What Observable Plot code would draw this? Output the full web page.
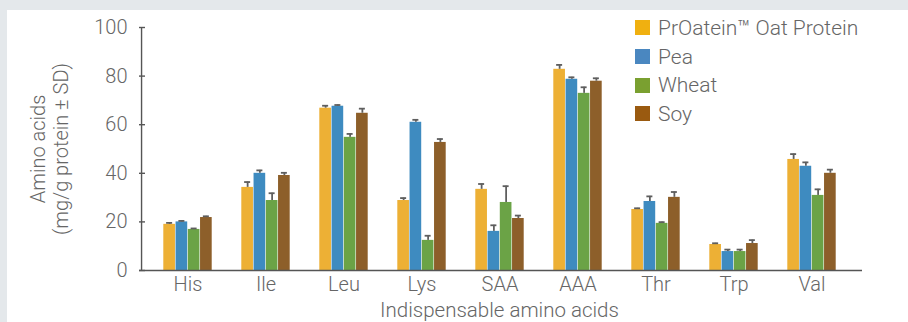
<!DOCTYPE html>
<html><head><meta charset="utf-8">
<script src="https://cdn.jsdelivr.net/npm/d3@7"></script>
<script src="https://cdn.jsdelivr.net/npm/@observablehq/plot@0.6"></script>
<style>
html,body{margin:0;padding:0;background:#e4e8eb;width:908px;height:322px;overflow:hidden;font-family:Roboto,"Liberation Sans",sans-serif;}
#panel{position:absolute;left:7px;top:10px;right:0;bottom:0;background:#fff;}
#chart{position:absolute;left:0;top:0;}
#legend{position:absolute;left:635px;top:13.5px;font-weight:300;font-size:21px;color:#666;}
#legend .row{display:flex;align-items:center;height:28.7px;}
#legend .sw{width:15px;height:15px;margin-right:8px;}
</style></head>
<body>
<div id="panel"></div>
<div id="chart"></div>
<div id="legend"></div>
<script>
const categories = ["His","Ile","Leu","Lys","SAA","AAA","Thr","Trp","Val"];
const series = ["PrOatein™ Oat Protein","Pea","Wheat","Soy"];
const barColors = ["#edb035","#3e8bc0","#6ba346","#8d5f2a"];
const legendColors = ["#f0b010","#4a87c0","#7aa030","#9a5a10"];
const oatValues   = [19.0, 34.2, 66.8, 28.8, 33.4, 82.8, 25.1, 10.7, 45.7];
const oatSD       = [0.6, 2.2, 1.0, 1.0, 2.2, 1.8, 0.5, 0.5, 2.2];
const peaValues   = [20.0, 40.0, 67.6, 61.0, 16.1, 78.7, 28.4, 7.8, 42.9];
const peaSD       = [0.4, 1.2, 0.5, 1.0, 2.5, 0.8, 2.1, 0.8, 1.6];
const wheatValues = [16.9, 28.8, 54.8, 12.4, 28.0, 72.9, 19.4, 7.8, 30.9];
const wheatSD     = [0.4, 3.0, 1.4, 1.9, 6.7, 2.5, 0.5, 0.8, 2.5];
const soyValues   = [21.8, 39.1, 64.7, 52.7, 21.4, 77.9, 30.1, 11.1, 40.0];
const soySD       = [0.5, 1.1, 1.9, 1.4, 1.2, 1.2, 2.2, 1.4, 1.5];
const yTicks = [0, 20, 40, 60, 80, 100];
const xLabel = "Indispensable amino acids";
const yLabel = "Amino acids\n(mg/g protein ± SD)";

const valueSets = [oatValues, peaValues, wheatValues, soyValues];
const sdSets = [oatSD, peaSD, wheatSD, soySD];

const W = 908, H = 322;
const mL = 139, mR = 49, mT = 27, mB = 52;
const frameW = W - mL - mR;
const pInner = 0.375, pOuter = 0.28;
const step = frameW / (categories.length - pInner + 2 * pOuter);
const bw = step * (1 - pInner);
const sub = bw / 4;
const gap = 0.3;
const capHalf = 3;
const tickLen = 6;

const marks = [];
series.forEach((s, i) => {
  const rows = categories.map((c, k) => ({cat: c, v: valueSets[i][k], sd: sdSets[i][k]}));
  const center = (i + 0.5) * sub; // from band start
  marks.push(Plot.barY(rows, {
    x: "cat", y: "v", fill: barColors[i],
    insetLeft: i * sub + gap, insetRight: (3 - i) * sub + gap
  }));
  marks.push(Plot.ruleX(rows, {
    x: "cat", y1: "v", y2: d => d.v + d.sd,
    dx: center - bw / 2, stroke: "#5e5e5e", strokeWidth: 1.8
  }));
  marks.push(Plot.tickY(rows, {
    x: "cat", y: d => d.v + d.sd,
    insetLeft: center - capHalf, insetRight: bw - center - capHalf,
    stroke: "#5e5e5e", strokeWidth: 1.8
  }));
});

// axes
const leftOffset = pOuter * step + bw / 2; // first band centre to frame left
marks.push(Plot.ruleY([0], {stroke: "#555", strokeWidth: 1.4, insetRight: -3}));
marks.push(Plot.ruleX([categories[0]], {x: d => d, y1: 0, y2: 100, dx: -leftOffset, stroke: "#555", strokeWidth: 1.4}));
marks.push(Plot.tickY(yTicks, {y: d => d, insetRight: frameW - tickLen, stroke: "#555", strokeWidth: 1.4}));

const chart = Plot.plot({
  width: W, height: H,
  marginLeft: mL, marginRight: mR, marginTop: mT, marginBottom: mB,
  style: {background: "transparent", fontFamily: "Roboto, 'Liberation Sans', sans-serif", fontWeight: 300, color: "#666"},
  x: {type: "band", domain: categories, paddingInner: pInner, paddingOuter: pOuter, label: null},
  y: {domain: [0, 100], label: null},
  marks: [
    ...marks,
    Plot.axisY({ticks: yTicks, tickSize: 0, tickPadding: 12, fontSize: 20, fill: "#666", label: null}),
    Plot.axisX({tickSize: 0, tickPadding: 6, fontSize: 20, fill: "#666", label: null}),
    Plot.text([xLabel], {frameAnchor: "bottom", dy: 46, fontSize: 20.5, fill: "#666", fontWeight: 300}),
    Plot.text([yLabel], {frameAnchor: "left", textAnchor: "middle", dx: -90, rotate: -90, fontSize: 20, fill: "#666", fontWeight: 300, lineHeight: 1.15})
  ]
});
document.getElementById("chart").appendChild(chart);

const legend = document.getElementById("legend");
series.forEach((s, i) => {
  const row = document.createElement("div");
  row.className = "row";
  const sw = document.createElement("div");
  sw.className = "sw";
  sw.style.background = legendColors[i];
  const t = document.createElement("span");
  t.textContent = s;
  row.appendChild(sw); row.appendChild(t);
  legend.appendChild(row);
});
</script>
</body></html>
